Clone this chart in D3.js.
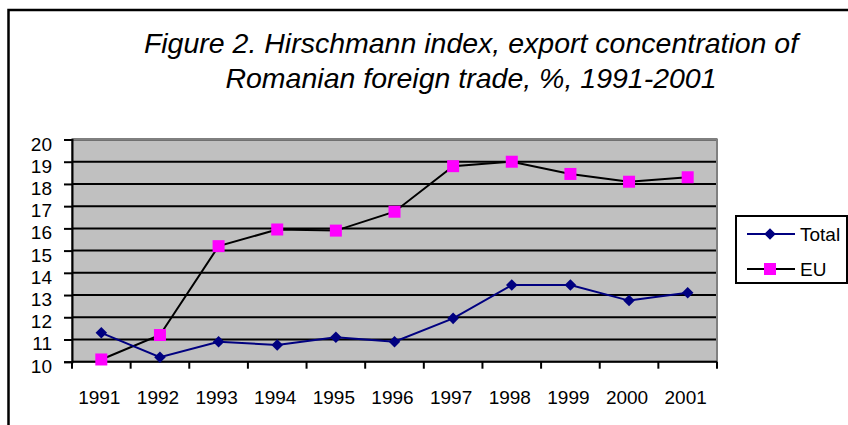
<!DOCTYPE html>
<html>
<head>
<meta charset="utf-8">
<script src="https://cdn.jsdelivr.net/npm/d3@7"></script>
<style>
  body { margin: 0; background: #ffffff; }
  text { font-family: "Liberation Sans", Arial, sans-serif; }
</style>
</head>
<body>
<div id="chart"></div>
<script>
// values
var years = ['1991', '1992', '1993', '1994', '1995', '1996', '1997', '1998', '1999', '2000', '2001'];
var totalValues = [11.3, 10.2, 10.9, 10.75, 11.1, 10.9, 11.95, 13.45, 13.45, 12.75, 13.1];
var euValues = [10.1, 11.2, 15.2, 15.95, 15.9, 16.75, 18.8, 19.0, 18.45, 18.1, 18.3];
var yTicks = [10, 11, 12, 13, 14, 15, 16, 17, 18, 19, 20];
var titleLines = ['Figure 2. Hirschmann index, export concentration of', 'Romanian foreign trade, %, 1991-2001'];
var seriesNames = ['Total', 'EU'];

function drawChart() {
  var W = 848, H = 425;
  var plot = { left: 72, right: 717, top: 139.5, bottom: 361.7 };

  var svg = d3.select('#chart').append('svg')
    .attr('width', W)
    .attr('height', H)
    .style('display', 'block');

  // outer chart border (runs off the right and bottom edges)
  svg.append('path')
    .attr('d', 'M8.5,' + (H + 5) + 'V10H' + (W + 5))
    .attr('fill', 'none')
    .attr('stroke', '#000')
    .attr('stroke-width', 2.5);

  // title
  svg.append('g').selectAll('text').data(titleLines)
    .enter().append('text')
    .attr('x', 471)
    .attr('y', function(d, i) { return 53 + i * 35; })
    .attr('text-anchor', 'middle')
    .style('font-size', '28.5px')
    .style('font-style', 'italic')
    .text(function(d) { return d; });

  var xScale = d3.scaleBand()
    .domain(years)
    .range([plot.left, plot.right]);

  var yScale = d3.scaleLinear()
    .domain([10, 20])
    .range([plot.bottom, plot.top]);

  // plot area
  svg.append('rect')
    .attr('x', plot.left)
    .attr('y', plot.top)
    .attr('width', plot.right - plot.left)
    .attr('height', plot.bottom - plot.top)
    .attr('fill', '#c0c0c0');

  svg.append('g').selectAll('line').data(yTicks.slice(1))
    .enter().append('line')
    .attr('x1', plot.left)
    .attr('x2', plot.right)
    .attr('y1', function(d) { return yScale(d); })
    .attr('y2', function(d) { return yScale(d); })
    .attr('stroke', '#000')
    .attr('stroke-width', 2);

  svg.append('rect')
    .attr('x', plot.left)
    .attr('y', plot.top)
    .attr('width', plot.right - plot.left)
    .attr('height', plot.bottom - plot.top)
    .attr('fill', 'none')
    .attr('stroke', '#808080')
    .attr('stroke-width', 2);

  // y axis
  var yAxis = d3.axisLeft(yScale)
    .tickValues(yTicks)
    .tickSize(8)
    .tickPadding(12)
    .tickFormat(d3.format('d'));
  var yG = svg.append('g')
    .attr('transform', 'translate(' + plot.left + ',0)')
    .call(yAxis);
  yG.select('.domain').attr('stroke', '#000').attr('stroke-width', 2);
  yG.selectAll('.tick line').attr('stroke', '#000').attr('stroke-width', 2);
  yG.selectAll('.tick text')
    .attr('dy', '10.5px')
    .attr('fill', '#000')
    .style('font-family', '"Liberation Sans", Arial, sans-serif')
    .style('font-size', '19px');

  // x axis, ticks sit on the category boundaries
  var xBounds = d3.range(years.length + 1).map(function(i) { return plot.left + i * xScale.bandwidth(); });
  var xG = svg.append('g');
  xG.append('line')
    .attr('x1', plot.left).attr('x2', plot.right)
    .attr('y1', plot.bottom).attr('y2', plot.bottom)
    .attr('stroke', '#000').attr('stroke-width', 2);
  xG.selectAll('.tk').data(xBounds)
    .enter().append('line')
    .attr('class', 'tk')
    .attr('x1', function(d) { return d; })
    .attr('x2', function(d) { return d; })
    .attr('y1', plot.bottom)
    .attr('y2', plot.bottom + 7)
    .attr('stroke', '#000')
    .attr('stroke-width', 2);
  xG.selectAll('text').data(years)
    .enter().append('text')
    .attr('x', function(d) { return xScale(d) + xScale.bandwidth() / 2 - 2; })
    .attr('y', plot.bottom + 42)
    .attr('text-anchor', 'middle')
    .style('font-size', '19px')
    .text(function(d) { return d; });

  var line = d3.line()
    .x(function(d, i) { return xScale(years[i]) + xScale.bandwidth() / 2; })
    .y(function(d) { return yScale(d); });

  // EU series
  svg.append('path')
    .datum(euValues)
    .attr('d', line)
    .attr('fill', 'none')
    .attr('stroke', '#000')
    .attr('stroke-width', 2);

  // Total series
  svg.append('path')
    .datum(totalValues)
    .attr('d', line)
    .attr('fill', 'none')
    .attr('stroke', '#000080')
    .attr('stroke-width', 2);

  var diamond = d3.symbol().type(d3.symbolDiamond2).size(85);

  svg.append('g').selectAll('path').data(totalValues)
    .enter().append('path')
    .attr('d', diamond)
    .attr('transform', function(d, i) {
      return 'translate(' + (xScale(years[i]) + xScale.bandwidth() / 2) + ',' + yScale(d) + ')';
    })
    .attr('fill', '#000080');

  svg.append('g').selectAll('rect').data(euValues)
    .enter().append('rect')
    .attr('x', function(d, i) { return xScale(years[i]) + xScale.bandwidth() / 2 - 6; })
    .attr('y', function(d) { return yScale(d) - 6; })
    .attr('width', 12)
    .attr('height', 12)
    .attr('fill', '#ff00ff');

  // legend
  var legend = svg.append('g');
  legend.append('rect')
    .attr('x', 736)
    .attr('y', 216)
    .attr('width', 111)
    .attr('height', 67)
    .attr('fill', '#fff')
    .attr('stroke', '#000')
    .attr('stroke-width', 2);

  var legendColors = ['#000080', '#000'];
  var entries = legend.selectAll('g').data(seriesNames)
    .enter().append('g')
    .attr('transform', function(d, i) { return 'translate(0,' + (234 + i * 35) + ')'; });
  entries.append('line')
    .attr('x1', 747).attr('x2', 795)
    .attr('y1', 0).attr('y2', 0)
    .attr('stroke', function(d, i) { return legendColors[i]; })
    .attr('stroke-width', 2);
  entries.filter(function(d, i) { return i === 0; })
    .append('path')
    .attr('d', diamond)
    .attr('transform', 'translate(770,0)')
    .attr('fill', '#000080');
  entries.filter(function(d, i) { return i === 1; })
    .append('rect')
    .attr('x', 764).attr('y', -6)
    .attr('width', 12).attr('height', 12)
    .attr('fill', '#ff00ff');
  entries.append('text')
    .attr('x', 800)
    .attr('y', 7)
    .style('font-size', '19px')
    .text(function(d) { return d; });
}

drawChart();
</script>
</body>
</html>
